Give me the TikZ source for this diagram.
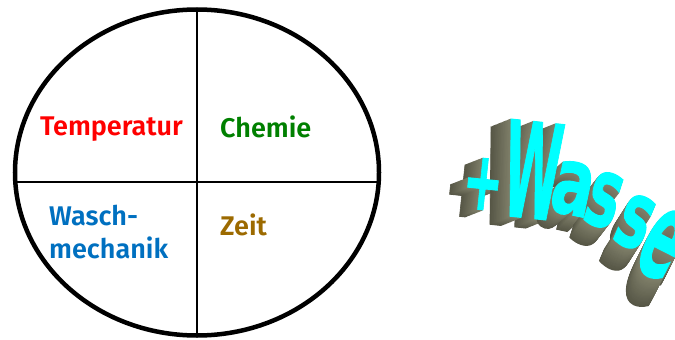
\documentclass[tikz,border=0pt]{standalone}
\usepackage{fontspec}
\newfontfamily\labfont{Fira Sans SemiBold}
\newfontfamily\wfont{DejaVu Sans Bold}[FakeBold=1.2]
\usetikzlibrary{shapes.geometric,calc}
\definecolor{tred}{HTML}{FF0000}
\definecolor{tgreen}{HTML}{008000}
\definecolor{tblue}{HTML}{0070C0}
\definecolor{tbrown}{HTML}{9C6A00}
\definecolor{wdark}{HTML}{3A3A2E}
\definecolor{wlight}{HTML}{80806A}
\definecolor{wcyan}{HTML}{00FFFF}
\begin{document}
\begin{tikzpicture}[x=1pt,y=-1pt,
  lab/.style={font=\labfont\fontsize{27}{30}\selectfont, anchor=base west, inner sep=0pt},
  wl/.style={font=\wfont\fontsize{100}{100}\selectfont, inner sep=0pt, anchor=center},
  divline/.style={line width=2.8pt, black},
  rim/.style={draw, ellipse, line width=4.5pt, inner sep=0pt, outer sep=0pt}]
\useasboundingbox (0,0) rectangle (675,340);
\clip (0,0) rectangle (675,340);
% circle divided in four
\node[rim, minimum width=364pt, minimum height=326pt] (circ) at (197,172.5) {};
\coordinate (hL) at (15.3,182);
\coordinate (hR) at (378.7,182);
\draw[divline] (circ.north) -- (circ.south);
\draw[divline] (hL) -- (hR);
\node[lab, text=tred] (temp) at (40,135) {Temperatur};
\node[lab, text=tgreen] (chem) at (220,137) {Chemie};
\node[lab, text=tblue] (wasch) at (49,225) {Wasch-};
\node[lab, text=tblue] (mech) at (49,258) {mechanik};
\node[lab, text=tbrown] (zeit) at (220,235) {Zeit};
% 3D word +Wasser
\def\wletters{+/483/184/-6/0.48/0.82/-18/7, W/533/170/-6/0.52/1.32/-20/8, a/573/189/-12/0.62/0.94/-16/14, s/604/200/-18/0.56/0.97/-14/18, s/635/222/-23/0.56/0.94/-14/22, e/663/244/-27/0.56/1.25/-14/28, r/730/272/-31/0.5/1.3/-14/30}
\foreach \c/\x/\y/\r/\sx/\sy/\ex/\ey [count=\i] in \wletters {
  \foreach \k in {24,23,...,1} {
    \pgfmathsetmacro\t{100-\k*2.5}
    \node[wl, text=wlight!\t!wdark, rotate=\r, xscale=\sx, yscale=\sy] (ex\i-\k) at (\x+\k/24*\ex, \y+\k/24*\ey) {\c};
  }
}
\foreach \c/\x/\y/\r/\sx/\sy/\ex/\ey [count=\i] in \wletters {
  \node[wl, text=wcyan, rotate=\r, xscale=\sx, yscale=\sy] (face\i) at (\x,\y) {\c};
}
\end{tikzpicture}
\end{document}
